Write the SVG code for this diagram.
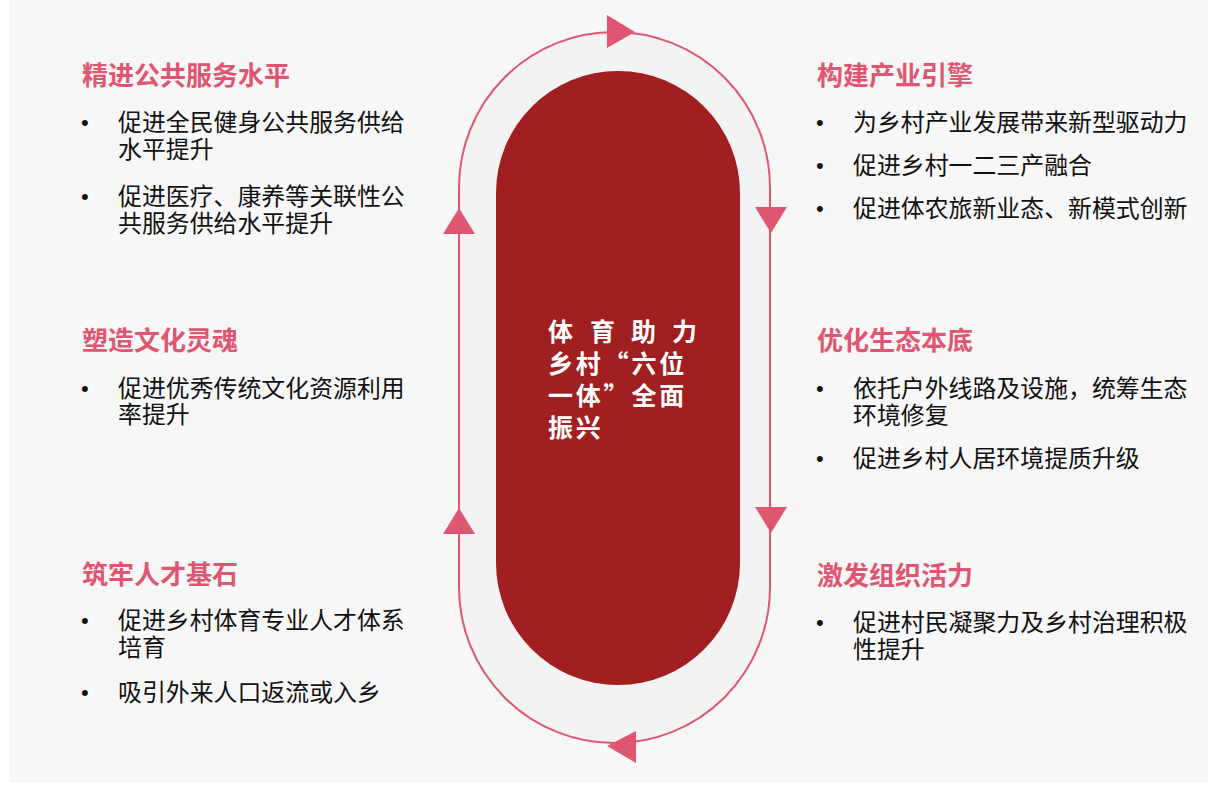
<svg xmlns="http://www.w3.org/2000/svg" width="1208" height="786" viewBox="0 0 1208 786">
<style>
.h{font-family:"Noto Sans CJK SC","Noto Sans",sans-serif;font-size:26px;font-weight:bold;fill:#df5671}
.b{font-family:"Noto Sans CJK SC","Noto Sans",sans-serif;font-size:23.9px;fill:#111}
.d{font-family:"Liberation Sans",Arial,sans-serif;font-size:22px;fill:#111}
.c{font-family:"Noto Sans CJK SC","Noto Sans",sans-serif;font-size:25px;font-weight:bold;fill:#fff;letter-spacing:2.8px}
.ar{fill:#df5671}
</style>
<rect x="0" y="0" width="1208" height="786" fill="#ffffff"/>
<rect x="9" y="0" width="1199" height="783" fill="#f7f7f7"/>
<g id="connectors">
<rect x="459" y="32" width="311" height="711" rx="155.5" ry="155.5" fill="#f3f3f3" stroke="#df5671" stroke-width="2"/>
<polygon class="ar" points="607,15 635,32 607,48"/>
<polygon class="ar" points="755,207 787,207 771,233"/>
<polygon class="ar" points="755,507 787,507 771,533"/>
<polygon class="ar" points="636,731 607,746 636,763"/>
<polygon class="ar" points="443,534 475,534 459,508"/>
<polygon class="ar" points="443,234 475,234 459,208"/>
</g>
<g id="center">
<rect x="496" y="71" width="244" height="614" rx="122" ry="122" fill="#a11f21"/>
<text class="c" x="548 590 631 672" y="341">体育助力</text>
<text class="c" x="548" y="373">乡村“六位</text>
<text class="c" x="548" y="405">一体”全面</text>
<text class="c" x="548" y="437">振兴</text>
</g>
<g id="n-public">
<text class="h" x="82" y="85">精进公共服务水平</text>
<text class="d" x="81" y="130">•</text>
<text class="b" x="118" y="131">促进全民健身公共服务供给</text>
<text class="b" x="118" y="158">水平提升</text>
<text class="d" x="81" y="204">•</text>
<text class="b" x="118" y="205">促进医疗、康养等关联性公</text>
<text class="b" x="118" y="232">共服务供给水平提升</text>
</g>
<g id="n-culture">
<text class="h" x="82" y="350">塑造文化灵魂</text>
<text class="d" x="81" y="396">•</text>
<text class="b" x="118" y="397">促进优秀传统文化资源利用</text>
<text class="b" x="118" y="423">率提升</text>
</g>
<g id="n-talent">
<text class="h" x="82" y="584">筑牢人才基石</text>
<text class="d" x="81" y="628">•</text>
<text class="b" x="118" y="629">促进乡村体育专业人才体系</text>
<text class="b" x="118" y="656">培育</text>
<text class="d" x="81" y="700">•</text>
<text class="b" x="118" y="701">吸引外来人口返流或入乡</text>
</g>
<g id="n-industry">
<text class="h" x="817" y="85">构建产业引擎</text>
<text class="d" x="816" y="130">•</text>
<text class="b" x="853" y="131">为乡村产业发展带来新型驱动力</text>
<text class="d" x="816" y="173">•</text>
<text class="b" x="853" y="174">促进乡村一二三产融合</text>
<text class="d" x="816" y="216">•</text>
<text class="b" x="853" y="217">促进体农旅新业态、新模式创新</text>
</g>
<g id="n-ecology">
<text class="h" x="817" y="350">优化生态本底</text>
<text class="d" x="816" y="396">•</text>
<text class="b" x="853" y="397">依托户外线路及设施，统筹生态</text>
<text class="b" x="853" y="424">环境修复</text>
<text class="d" x="816" y="466">•</text>
<text class="b" x="853" y="467">促进乡村人居环境提质升级</text>
</g>
<g id="n-organization">
<text class="h" x="817" y="585">激发组织活力</text>
<text class="d" x="816" y="630">•</text>
<text class="b" x="853" y="631">促进村民凝聚力及乡村治理积极</text>
<text class="b" x="853" y="658">性提升</text>
</g>
</svg>
